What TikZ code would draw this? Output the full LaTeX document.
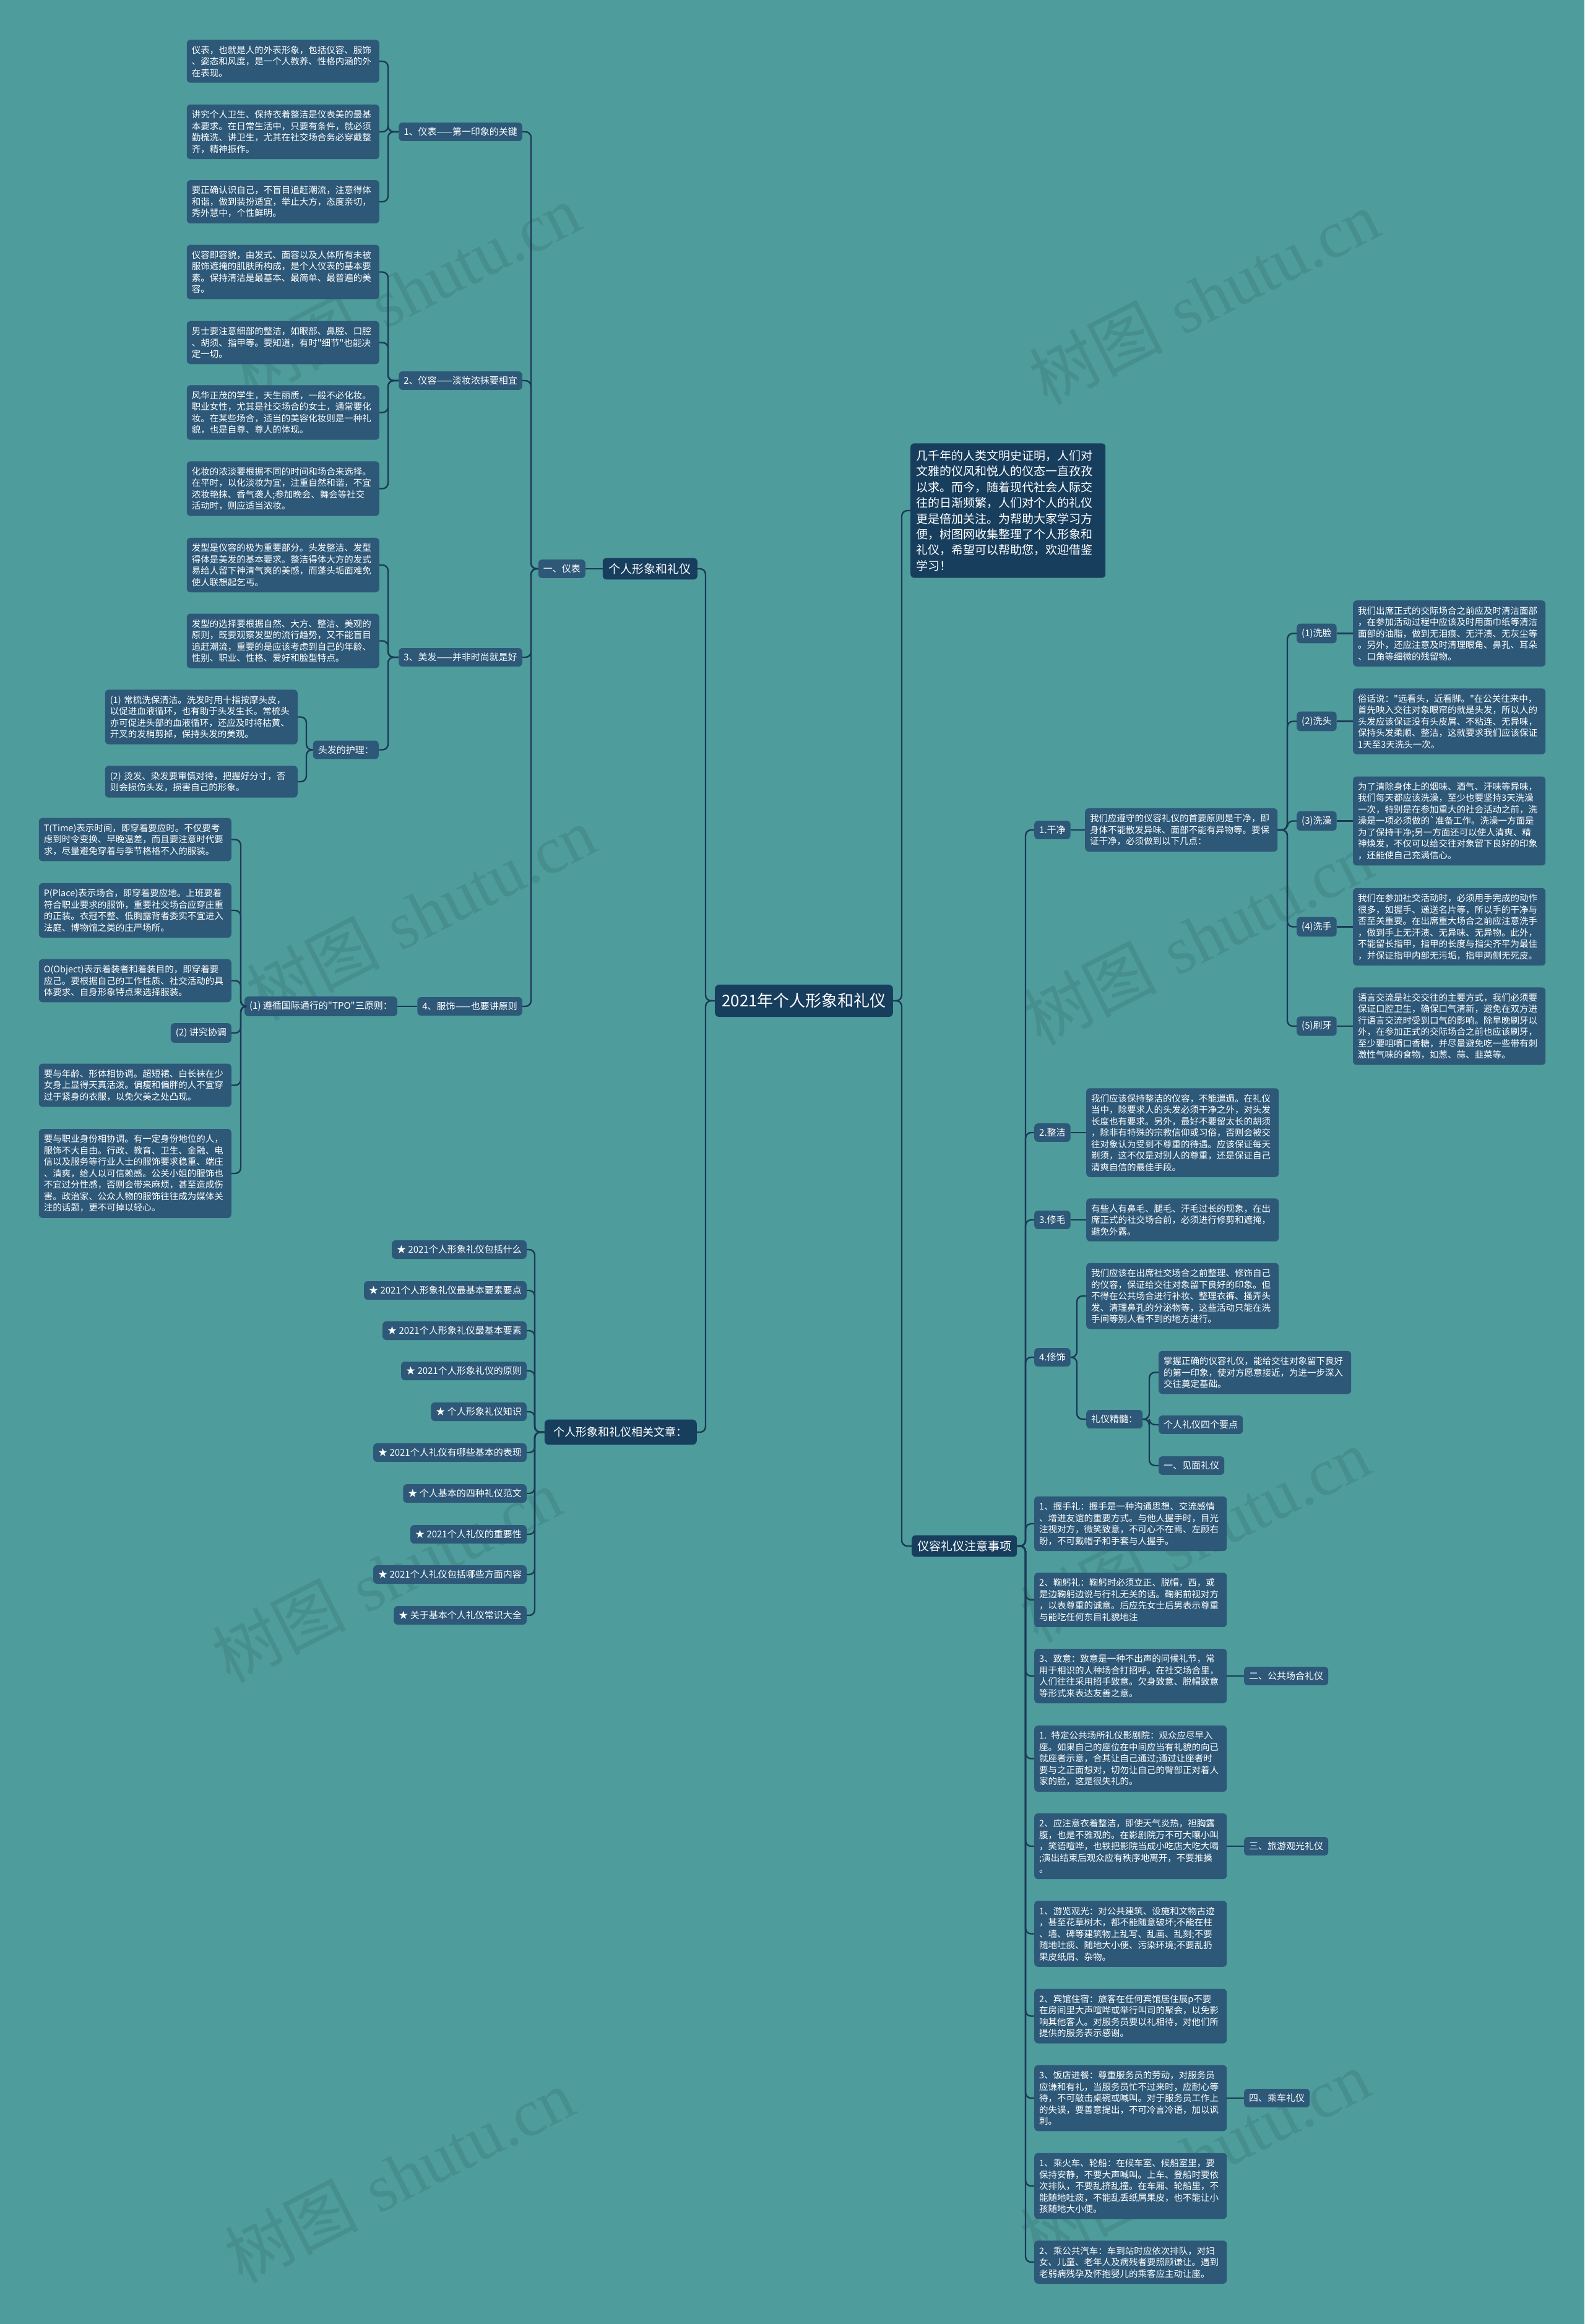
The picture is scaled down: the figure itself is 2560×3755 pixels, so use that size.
\documentclass[tikz,border=0pt]{standalone}
\usepackage{fontspec}
\newfontfamily\cjk{Noto Sans CJK SC}
\newfontfamily\wmfont{Liberation Serif}
\usetikzlibrary{calc}
\definecolor{bg}{HTML}{4E9C9C}
\definecolor{boxc}{HTML}{2D5878}
\definecolor{darkc}{HTML}{183E5E}
\definecolor{linec}{HTML}{1B3A56}
\definecolor{wmc}{HTML}{468F8E}
\newcommand\lnk[3]{\draw[conn] (#1.west) -- (#3 |- #1.west) |- (#2.east);}
\newcommand\rnk[3]{\draw[conn] (#1.east) -- (#3 |- #1.east) |- (#2.west);}
\tikzset{
 txt/.style={rectangle, rounded corners=6pt, fill=boxc, text=white, text width=295pt, align=left, inner xsep=8pt, inner ysep=9.5pt, font=\cjk\fontsize{14.5pt}{18.5pt}\selectfont},
 lbl/.style={rectangle, rounded corners=6pt, fill=boxc, text=white, inner xsep=8pt, inner ysep=8pt, font=\cjk\fontsize{15pt}{18pt}\selectfont},
 major/.style={rectangle, rounded corners=6pt, fill=darkc, text=white, inner xsep=10pt, inner ysep=8.5pt, font=\cjk\fontsize{19pt}{23pt}\selectfont},
 relmajor/.style={rectangle, rounded corners=7pt, fill=darkc, text=white, inner xsep=15pt, inner ysep=12pt, font=\cjk\fontsize{18pt}{22pt}\selectfont},
 rootn/.style={rectangle, rounded corners=7pt, fill=darkc, text=white, inner xsep=11pt, inner ysep=14pt, font=\cjk\fontsize{26pt}{30pt}\selectfont},
 introbox/.style={rectangle, rounded corners=6pt, fill=darkc, text=white, text width=296pt, align=left, inner xsep=9.5pt, inner ysep=11pt, font=\cjk\fontsize{19pt}{25.4pt}\selectfont},
 conn/.style={draw=linec, line width=2.4pt, rounded corners=9pt},
 wmk/.style={text=wmc, rotate=27, font=\fontsize{108pt}{110pt}\selectfont},
}
\begin{document}
\begin{tikzpicture}[x=1pt,y=-1pt]
\fill[bg] (0,0) rectangle (2560,3755);
\useasboundingbox (0,0) rectangle (2560,3755);
% watermarks
\node[wmk] (wm1) at (655,470) {{\cjk 树图} {\wmfont shutu.cn}};
\node[wmk] (wm2) at (1945,480) {{\cjk 树图} {\wmfont shutu.cn}};
\node[wmk] (wm3) at (680,1475) {{\cjk 树图} {\wmfont shutu.cn}};
\node[wmk] (wm4) at (1935,1515) {{\cjk 树图} {\wmfont shutu.cn}};
\node[wmk] (wm5) at (625,2545) {{\cjk 树图} {\wmfont shutu.cn}};
\node[wmk] (wm6) at (1930,2480) {{\cjk 树图} {\wmfont shutu.cn}};
\node[wmk] (wm7) at (645,3515) {{\cjk 树图} {\wmfont shutu.cn}};
\node[wmk] (wm8) at (1930,3485) {{\cjk 树图} {\wmfont shutu.cn}};

% root
\node[rootn] (root) at (1299,1617) {2021年个人形象和礼仪};
\node[introbox, anchor=west] (intro) at (1471,825) {几千年的人类文明史证明，人们对\\文雅的仪风和悦人的仪态一直孜孜\\以求。而今，随着现代社会人际交\\往的日渐频繁，人们对个人的礼仪\\更是倍加关注。为帮助大家学习方\\便，树图网收集整理了个人形象和\\礼仪，希望可以帮助您，欢迎借鉴\\学习！};

% ===== left side =====
\node[major, anchor=east] (gr) at (1127,919) {个人形象和礼仪};
\node[lbl, anchor=east] (yb) at (946,919) {一、仪表};
\node[lbl, anchor=east] (n1) at (844,213) {1、仪表——第一印象的关键};
\node[lbl, anchor=east] (n2) at (844,615) {2、仪容——淡妆浓抹要相宜};
\node[lbl, anchor=east] (n3) at (844,1062) {3、美发——并非时尚就是好};
\node[lbl, anchor=east] (n4) at (844,1626) {4、服饰——也要讲原则};

\node[txt, anchor=east] (a1) at (613,99) {仪表，也就是人的外表形象，包括仪容、服饰\\、姿态和风度，是一个人教养、性格内涵的外\\在表现。};
\node[txt, anchor=east] (a2) at (613,213) {讲究个人卫生、保持衣着整洁是仪表美的最基\\本要求。在日常生活中，只要有条件，就必须\\勤梳洗、讲卫生，尤其在社交场合务必穿戴整\\齐，精神振作。};
\node[txt, anchor=east] (a3) at (613,326) {要正确认识自己，不盲目追赶潮流，注意得体\\和谐，做到装扮适宜，举止大方，态度亲切，\\秀外慧中，个性鲜明。};

\node[txt, anchor=east] (b1) at (613,439.5) {仪容即容貌，由发式、面容以及人体所有未被\\服饰遮掩的肌肤所构成，是个人仪表的基本要\\素。保持清洁是最基本、最简单、最普遍的美\\容。};
\node[txt, anchor=east] (b2) at (613,553.5) {男士要注意细部的整洁，如眼部、鼻腔、口腔\\、胡须、指甲等。要知道，有时"细节"也能决\\定一切。};
\node[txt, anchor=east] (b3) at (613,666.5) {风华正茂的学生，天生丽质，一般不必化妆。\\职业女性，尤其是社交场合的女士，通常要化\\妆。在某些场合，适当的美容化妆则是一种礼\\貌，也是自尊、尊人的体现。};
\node[txt, anchor=east] (b4) at (613,789.5) {化妆的浓淡要根据不同的时间和场合来选择。\\在平时，以化淡妆为宜，注重自然和谐，不宜\\浓妆艳抹、香气袭人;参加晚会、舞会等社交\\活动时，则应适当浓妆。};

\node[txt, anchor=east] (c1) at (613,913) {发型是仪容的极为重要部分。头发整洁、发型\\得体是美发的基本要求。整洁得体大方的发式\\易给人留下神清气爽的美感，而蓬头垢面难免\\使人联想起乞丐。};
\node[txt, anchor=east] (c2) at (613,1035.5) {发型的选择要根据自然、大方、整洁、美观的\\原则，既要观察发型的流行趋势，又不能盲目\\追赶潮流，重要的是应该考虑到自己的年龄、\\性别、职业、性格、爱好和脸型特点。};
\node[lbl, anchor=east] (hair) at (612,1211.5) {头发的护理：};
\node[txt, anchor=east] (d1) at (481,1158.5) {(1) 常梳洗保清洁。洗发时用十指按摩头皮，\\以促进血液循环，也有助于头发生长。常梳头\\亦可促进头部的血液循环，还应及时将枯黄、\\开叉的发梢剪掉，保持头发的美观。};
\node[txt, anchor=east] (d2) at (481,1263) {(2) 烫发、染发要审慎对待，把握好分寸，否\\则会损伤头发，损害自己的形象。};

\node[lbl, anchor=east] (tpo) at (642,1626) {(1) 遵循国际通行的"TPO"三原则：};
\node[txt, anchor=east] (e1) at (374,1356.5) {T(Time)表示时间，即穿着要应时。不仅要考\\虑到时令变换、早晚温差，而且要注意时代要\\求，尽量避免穿着与季节格格不入的服装。};
\node[txt, anchor=east] (e2) at (374,1471) {P(Place)表示场合，即穿着要应地。上班要着\\符合职业要求的服饰，重要社交场合应穿庄重\\的正装。衣冠不整、低胸露背者委实不宜进入\\法庭、博物馆之类的庄严场所。};
\node[txt, anchor=east] (e3) at (374,1584.5) {O(Object)表示着装者和着装目的，即穿着要\\应己。要根据自己的工作性质、社交活动的具\\体要求、自身形象特点来选择服装。};
\node[lbl, anchor=east] (xt) at (374,1669) {(2) 讲究协调};
\node[txt, anchor=east] (f1) at (374,1753.5) {要与年龄、形体相协调。超短裙、白长袜在少\\女身上显得天真活泼。偏瘦和偏胖的人不宜穿\\过于紧身的衣服，以免欠美之处凸现。};
\node[txt, anchor=east] (f2) at (374,1896) {要与职业身份相协调。有一定身份地位的人，\\服饰不大自由。行政、教育、卫生、金融、电\\信以及服务等行业人士的服饰要求稳重、端庄\\、清爽，给人以可信赖感。公关小姐的服饰也\\不宜过分性感，否则会带来麻烦，甚至造成伤\\害。政治家、公众人物的服饰往往成为媒体关\\注的话题，更不可掉以轻心。};

% related
\node[relmajor, anchor=east] (rel) at (1126,2314) {个人形象和礼仪相关文章：};
\node[lbl, anchor=east] (r1) at (851,2019) {★ 2021个人形象礼仪包括什么};
\node[lbl, anchor=east] (r2) at (851,2085) {★ 2021个人形象礼仪最基本要素要点};
\node[lbl, anchor=east] (r3) at (851,2150) {★ 2021个人形象礼仪最基本要素};
\node[lbl, anchor=east] (r4) at (851,2215) {★ 2021个人形象礼仪的原则};
\node[lbl, anchor=east] (r5) at (851,2281) {★ 个人形象礼仪知识};
\node[lbl, anchor=east] (r6) at (851,2347) {★ 2021个人礼仪有哪些基本的表现};
\node[lbl, anchor=east] (r7) at (851,2413) {★ 个人基本的四种礼仪范文};
\node[lbl, anchor=east] (r8) at (851,2479) {★ 2021个人礼仪的重要性};
\node[lbl, anchor=east] (r9) at (851,2544) {★ 2021个人礼仪包括哪些方面内容};
\node[lbl, anchor=east] (r10) at (851,2610) {★ 关于基本个人礼仪常识大全};

% ===== right side =====
\node[major, anchor=west, inner xsep=9pt] (yrl) at (1473,2498) {仪容礼仪注意事项};
\node[lbl, anchor=west] (gj) at (1671,1341) {1.干净};
\node[txt, anchor=west] (gjd) at (1753,1341) {我们应遵守的仪容礼仪的首要原则是干净，即\\身体不能散发异味、面部不能有异物等。要保\\证干净，必须做到以下几点：};
\node[lbl, anchor=west] (x1) at (2095,1023.5) {(1)洗脸};
\node[lbl, anchor=west] (x2) at (2095,1165.5) {(2)洗头};
\node[lbl, anchor=west] (x3) at (2095,1326.5) {(3)洗澡};
\node[lbl, anchor=west] (x4) at (2095,1497.5) {(4)洗手};
\node[lbl, anchor=west] (x5) at (2095,1658) {(5)刷牙};
\node[txt, anchor=west] (xd1) at (2186,1023.5) {我们出席正式的交际场合之前应及时清洁面部\\，在参加活动过程中应该及时用面巾纸等清洁\\面部的油脂，做到无泪痕、无汗渍、无灰尘等\\。另外，还应注意及时清理眼角、鼻孔、耳朵\\、口角等细微的残留物。};
\node[txt, anchor=west] (xd2) at (2186,1165.5) {俗话说："远看头，近看脚。"在公关往来中，\\首先映入交往对象眼帘的就是头发，所以人的\\头发应该保证没有头皮屑、不粘连、无异味，\\保持头发柔顺、整洁，这就要求我们应该保证\\1天至3天洗头一次。};
\node[txt, anchor=west] (xd3) at (2186,1326.5) {为了清除身体上的烟味、酒气、汗味等异味，\\我们每天都应该洗澡，至少也要坚持3天洗澡\\一次，特别是在参加重大的社会活动之前，洗\\澡是一项必须做的`准备工作。洗澡一方面是\\为了保持干净;另一方面还可以使人清爽、精\\神焕发，不仅可以给交往对象留下良好的印象\\，还能使自己充满信心。};
\node[txt, anchor=west] (xd4) at (2186,1497.5) {我们在参加社交活动时，必须用手完成的动作\\很多，如握手、递送名片等，所以手的干净与\\否至关重要。在出席重大场合之前应注意洗手\\，做到手上无汗渍、无异味、无异物。此外，\\不能留长指甲，指甲的长度与指尖齐平为最佳\\，并保证指甲内部无污垢，指甲两侧无死皮。};
\node[txt, anchor=west] (xd5) at (2186,1658) {语言交流是社交交往的主要方式，我们必须要\\保证口腔卫生，确保口气清新，避免在双方进\\行语言交流时受到口气的影响。除早晚刷牙以\\外，在参加正式的交际场合之前也应该刷牙，\\至少要咀嚼口香糖，并尽量避免吃一些带有刺\\激性气味的食物，如葱、蒜、韭菜等。};

\node[lbl, anchor=west] (zj) at (1671,1830) {2.整洁};
\node[txt, anchor=west] (zjd) at (1755,1830) {我们应该保持整洁的仪容，不能邋遢。在礼仪\\当中，除要求人的头发必须干净之外，对头发\\长度也有要求。另外，最好不要留太长的胡须\\，除非有特殊的宗教信仰或习俗，否则会被交\\往对象认为受到不尊重的待遇。应该保证每天\\剃须，这不仅是对别人的尊重，还是保证自己\\清爽自信的最佳手段。};
\node[lbl, anchor=west] (xm) at (1671,1971) {3.修毛};
\node[txt, anchor=west] (xmd) at (1755,1971) {有些人有鼻毛、腿毛、汗毛过长的现象，在出\\席正式的社交场合前，必须进行修剪和遮掩，\\避免外露。};
\node[lbl, anchor=west] (xs) at (1671,2193) {4.修饰};
\node[txt, anchor=west] (xsd) at (1755,2094) {我们应该在出席社交场合之前整理、修饰自己\\的仪容，保证给交往对象留下良好的印象。但\\不得在公共场合进行补妆、整理衣裤、搔弄头\\发、清理鼻孔的分泌物等，这些活动只能在洗\\手间等别人看不到的地方进行。};
\node[lbl, anchor=west] (lyjs) at (1755,2293) {礼仪精髓：};
\node[txt, anchor=west] (zw) at (1872,2217.5) {掌握正确的仪容礼仪，能给交往对象留下良好\\的第一印象，使对方愿意接近，为进一步深入\\交往奠定基础。};
\node[lbl, anchor=west] (sgyd) at (1872,2302) {个人礼仪四个要点};
\node[lbl, anchor=west] (jm) at (1872,2368) {一、见面礼仪};

\node[txt, anchor=west] (w1) at (1671,2462) {1、握手礼：握手是一种沟通思想、交流感情\\、增进友谊的重要方式。与他人握手时，目光\\注视对方，微笑致意，不可心不在焉、左顾右\\盼，不可戴帽子和手套与人握手。};
\node[txt, anchor=west] (w2) at (1671,2585) {2、鞠躬礼：鞠躬时必须立正、脱帽，西，或\\是边鞠躬边说与行礼无关的话。鞠躬前视对方\\，以表尊重的诚意。后应先女士后男表示尊重\\与能吃任何东目礼貌地注};
\node[txt, anchor=west] (w3) at (1671,2708) {3、致意：致意是一种不出声的问候礼节，常\\用于相识的人种场合打招呼。在社交场合里，\\人们往往采用招手致意。欠身致意、脱帽致意\\等形式来表达友善之意。};
\node[lbl, anchor=west] (ggl) at (2010,2708) {二、公共场合礼仪};
\node[txt, anchor=west] (g1) at (1671,2841.5) {1. 特定公共场所礼仪影剧院：观众应尽早入\\座。如果自己的座位在中间应当有礼貌的向已\\就座者示意，合其让自己通过;通过让座者时\\要与之正面想对，切勿让自己的臀部正对着人\\家的脸，这是很失礼的。};
\node[txt, anchor=west] (g2) at (1671,2983) {2、应注意衣着整洁，即使天气炎热，袒胸露\\腹，也是不雅观的。在影剧院万不可大嚷小叫\\，笑语喧哗，也铁把影院当成小吃店大吃大喝\\;演出结束后观众应有秩序地离开，不要推搡\\。};
\node[lbl, anchor=west] (lyl) at (2010,2983) {三、旅游观光礼仪};
\node[txt, anchor=west] (t1) at (1671,3124.5) {1、游览观光：对公共建筑、设施和文物古迹\\，甚至花草树木，都不能随意破坏;不能在柱\\、墙、碑等建筑物上乱写、乱画、乱刻;不要\\随地吐痰、随地大小便、污染环境;不要乱扔\\果皮纸屑、杂物。};
\node[txt, anchor=west] (t2) at (1671,3257.5) {2、宾馆住宿：旅客在任何宾馆居住展p不要\\在房间里大声喧哗或举行叫司的聚会，以免影\\响其他客人。对服务员要以礼相待，对他们所\\提供的服务表示感谢。};
\node[txt, anchor=west] (t3) at (1671,3390) {3、饭店进餐：尊重服务员的劳动，对服务员\\应谦和有礼，当服务员忙不过来时，应耐心等\\待，不可敲击桌碗或喊叫。对于服务员工作上\\的失误，要善意提出，不可冷言冷语，加以讽\\刺。};
\node[lbl, anchor=west] (ccl) at (2010,3390) {四、乘车礼仪};
\node[txt, anchor=west] (cc1) at (1671,3532) {1、乘火车、轮船：在候车室、候船室里，要\\保持安静，不要大声喊叫。上车、登船时要依\\次排队，不要乱挤乱撞。在车厢、轮船里，不\\能随地吐痰，不能乱丢纸屑果皮，也不能让小\\孩随地大小便。};
\node[txt, anchor=west] (cc2) at (1671,3655) {2、乘公共汽车：车到站时应依次排队，对妇\\女、儿童、老年人及病残者要照顾谦让。遇到\\老弱病残孕及怀抱婴儿的乘客应主动让座。};

% ===== connectors =====
\coordinate (sL) at (1140,0);
\coordinate (sYB) at (858,0);
\coordinate (sA) at (627,0);
\coordinate (sH) at (495,0);
\coordinate (sT) at (389,0);
\coordinate (sR) at (864,0);
\coordinate (sRt) at (1457,0);
\coordinate (sY) at (1657,0);
\coordinate (sG) at (2080,0);
\coordinate (sX) at (1740,0);
\coordinate (sJ) at (1857,0);

\lnk{root}{gr}{sL}
\lnk{root}{rel}{sL}
\draw[conn] (gr.west) -- (yb.east);
\lnk{yb}{n1}{sYB} \lnk{yb}{n2}{sYB} \lnk{yb}{n3}{sYB} \lnk{yb}{n4}{sYB}
\lnk{n1}{a1}{sA} \lnk{n1}{a2}{sA} \lnk{n1}{a3}{sA}
\lnk{n2}{b1}{sA} \lnk{n2}{b2}{sA} \lnk{n2}{b3}{sA} \lnk{n2}{b4}{sA}
\lnk{n3}{c1}{sA} \lnk{n3}{c2}{sA} \lnk{n3}{hair}{sA}
\lnk{hair}{d1}{sH} \lnk{hair}{d2}{sH}
\draw[conn] (n4.west) -- (tpo.east);
\lnk{tpo}{e1}{sT} \lnk{tpo}{e2}{sT} \lnk{tpo}{e3}{sT} \lnk{tpo}{xt}{sT} \lnk{tpo}{f1}{sT} \lnk{tpo}{f2}{sT}
\lnk{rel}{r1}{sR} \lnk{rel}{r2}{sR} \lnk{rel}{r3}{sR} \lnk{rel}{r4}{sR} \lnk{rel}{r5}{sR}
\lnk{rel}{r6}{sR} \lnk{rel}{r7}{sR} \lnk{rel}{r8}{sR} \lnk{rel}{r9}{sR} \lnk{rel}{r10}{sR}

\rnk{root}{intro}{sRt}
\rnk{root}{yrl}{sRt}
\rnk{yrl}{gj}{sY} \rnk{yrl}{zj}{sY} \rnk{yrl}{xm}{sY} \rnk{yrl}{xs}{sY}
\rnk{yrl}{w1}{sY} \rnk{yrl}{w2}{sY} \rnk{yrl}{w3}{sY} \rnk{yrl}{g1}{sY} \rnk{yrl}{g2}{sY}
\rnk{yrl}{t1}{sY} \rnk{yrl}{t2}{sY} \rnk{yrl}{t3}{sY} \rnk{yrl}{cc1}{sY} \rnk{yrl}{cc2}{sY}
\draw[conn] (gj.east) -- (gjd.west);
\rnk{gjd}{x1}{sG} \rnk{gjd}{x2}{sG} \rnk{gjd}{x3}{sG} \rnk{gjd}{x4}{sG} \rnk{gjd}{x5}{sG}
\draw[conn] (x1.east) -- (xd1.west);
\draw[conn] (x2.east) -- (xd2.west);
\draw[conn] (x3.east) -- (xd3.west);
\draw[conn] (x4.east) -- (xd4.west);
\draw[conn] (x5.east) -- (xd5.west);
\draw[conn] (zj.east) -- (zjd.west);
\draw[conn] (xm.east) -- (xmd.west);
\rnk{xs}{xsd}{sX} \rnk{xs}{lyjs}{sX}
\rnk{lyjs}{zw}{sJ} \rnk{lyjs}{sgyd}{sJ} \rnk{lyjs}{jm}{sJ}
\draw[conn] (w3.east) -- (ggl.west);
\draw[conn] (g2.east) -- (lyl.west);
\draw[conn] (t3.east) -- (ccl.west);
\end{tikzpicture}
\end{document}
